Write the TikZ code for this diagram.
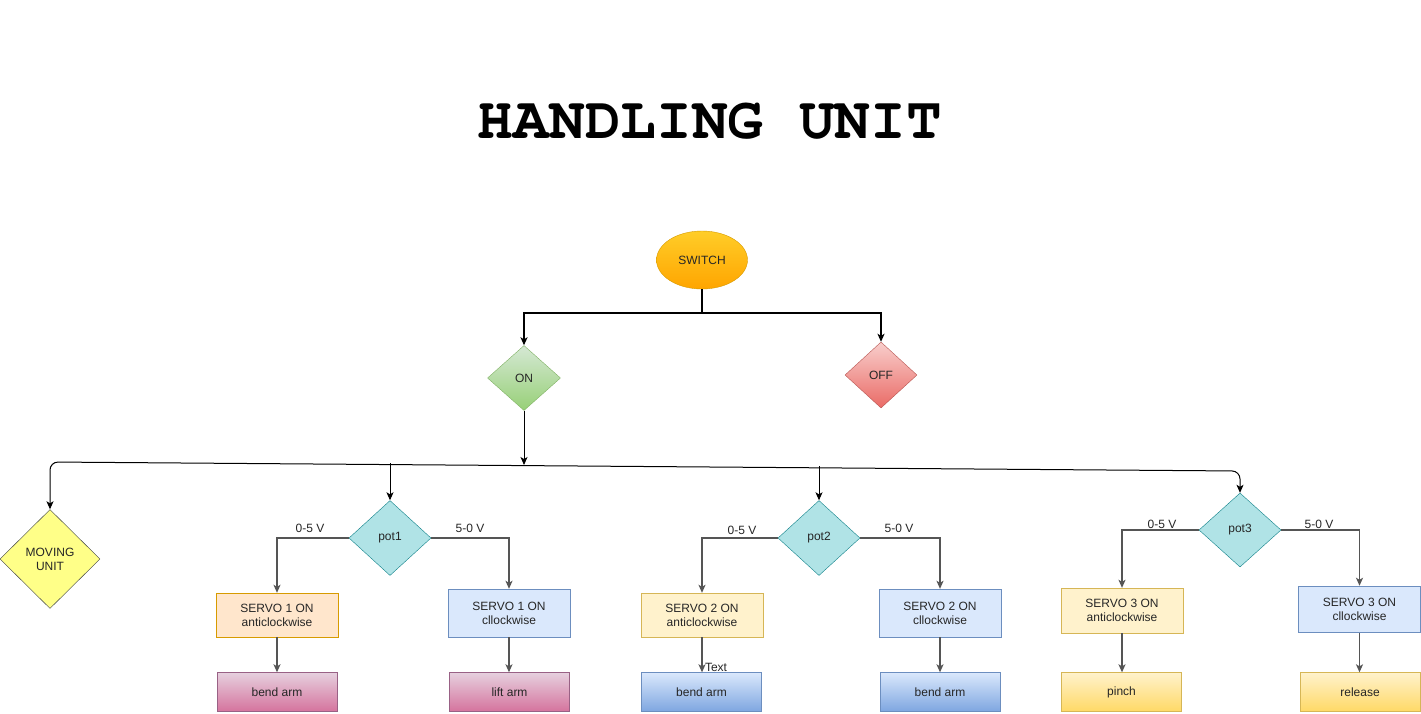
\documentclass[tikz,border=0pt]{standalone}
\usepackage{fontspec}
\setmainfont{Liberation Sans}
\newfontfamily\titlefont{TeX Gyre Cursor}
\usetikzlibrary{shapes.geometric,arrows.meta}
\definecolor{potfill}{HTML}{B0E3E6}
\definecolor{potline}{HTML}{0E8088}
\definecolor{ontop}{HTML}{D5E8D4}
\definecolor{onbot}{HTML}{97D077}
\definecolor{online}{HTML}{82B366}
\definecolor{offtop}{HTML}{F8CECC}
\definecolor{offbot}{HTML}{EA6B66}
\definecolor{offline}{HTML}{B85450}
\definecolor{swtop}{HTML}{FFCD28}
\definecolor{swbot}{HTML}{FFA500}
\definecolor{swline}{HTML}{D79B00}
\definecolor{mufill}{HTML}{FFFF88}
\definecolor{muline}{HTML}{36393D}
\definecolor{orfill}{HTML}{FFE6CC}
\definecolor{blfill}{HTML}{DAE8FC}
\definecolor{blline}{HTML}{6C8EBF}
\definecolor{blbot}{HTML}{7EA6E0}
\definecolor{yefill}{HTML}{FFF2CC}
\definecolor{yeline}{HTML}{D6B656}
\definecolor{yebot}{HTML}{FFD966}
\definecolor{pktop}{HTML}{E6D0DE}
\definecolor{pkbot}{HTML}{D5739D}
\definecolor{pkline}{HTML}{996185}
\definecolor{conn}{HTML}{555555}
\tikzset{
  lbl/.style={font=\fontsize{12}{14}\selectfont, text=black!85},
  dia/.style={diamond, draw, inner sep=0pt, font=\fontsize{12}{14}\selectfont, align=center, text=black!85},
  potd/.style={dia, fill=potfill, draw=potline, minimum width=82pt, minimum height=75pt},
  box/.style={rectangle, draw, inner sep=0pt, minimum width=122pt, minimum height=45pt, font=\fontsize{12}{14}\selectfont, align=center, text=black!85},
  endbox/.style={box, minimum width=120pt, minimum height=39pt},
  arr/.style={-{Stealth[length=8pt,width=7pt,inset=2pt]}},
  thin/.style={arr, line width=1pt},
  thick/.style={arr, line width=2pt},
  gconn/.style={thin, draw=conn, line width=1.3pt},
}
\begin{document}
\begin{tikzpicture}[x=1pt,y=-1pt]
\useasboundingbox (0,0) rectangle (1421,713);
\fill[white] (0,0) rectangle (1421,713);

\node[font={\titlefont\bfseries\fontsize{59.5}{60}\selectfont}] (title) at (710,121) {HANDLING UNIT};

% top nodes
\node[ellipse, draw=swline, top color=swtop, bottom color=swbot, minimum width=91pt, minimum height=58pt, inner sep=0pt, lbl] (sw) at (702,260) {SWITCH};
\node[dia, draw=online, top color=ontop, bottom color=onbot, minimum width=73pt, minimum height=65pt] (on) at (524,378) {ON};
\node[dia, draw=offline, top color=offtop, bottom color=offbot, minimum width=72pt, minimum height=66pt] (off) at (881,375) {OFF};

\coordinate (split) at (702,313);
\draw[thick] (sw.south) -- (split) -| (on.north);
\draw[thick] (split) -| (off.north);

% moving unit and pots
\node[dia, fill=mufill, draw=muline, minimum width=100pt, minimum height=99pt] (mu) at (50,559) {MOVING\\UNIT};
\node[potd] (p1) at (390,538) {pot1};
\node[potd] (p2) at (819,538) {pot2};
\node[potd, minimum height=74pt] (p3) at (1240,530) {pot3};

\coordinate (hl) at (50,462);
\coordinate (hr) at (1240,471);
\coordinate (onj) at (524,465);
\coordinate (p1j) at (390,463);
\coordinate (p2j) at (819,466);
\draw[thin] (on.south) -- (onj);
\draw[line width=1pt, {Stealth[length=8pt,width=7pt,inset=2pt]}-{Stealth[length=8pt,width=7pt,inset=2pt]}, rounded corners=8pt] (mu.north) -- (hl) -- (hr) -- (p3.north);
\draw[thin] (p1j) -- (p1.north);
\draw[thin] (p2j) -- (p2.north);

% servo boxes
\node[box, fill=orfill, draw=swline, minimum height=44pt] (s1a) at (277,615) {SERVO 1 ON\\anticlockwise};
\node[box, fill=blfill, draw=blline, minimum height=48pt] (s1c) at (509,613) {SERVO 1 ON\\cllockwise};
\node[box, fill=yefill, draw=yeline, minimum height=44pt] (s2a) at (702,615) {SERVO 2 ON\\anticlockwise};
\node[box, fill=blfill, draw=blline, minimum height=48pt] (s2c) at (940,613) {SERVO 2 ON\\cllockwise};
\node[box, fill=yefill, draw=yeline, minimum height=45pt] (s3a) at (1122,610.5) {SERVO 3 ON\\anticlockwise};
\node[box, fill=blfill, draw=blline, line width=1.5pt, minimum height=46pt] (s3c) at (1359.5,609.5) {SERVO 3 ON\\cllockwise};

% end boxes
\node[endbox, top color=pktop, bottom color=pkbot, draw=pkline] (b1) at (277,692) {bend arm};
\node[endbox, top color=pktop, bottom color=pkbot, draw=pkline] (b2) at (509.5,692) {lift arm};
\node[endbox, top color=blfill, bottom color=blbot, draw=blline] (b3) at (701.5,692) {bend arm};
\node[endbox, top color=blfill, bottom color=blbot, draw=blline] (b4) at (940,692) {bend arm};
\node[endbox, top color=yefill, bottom color=yebot, draw=yeline] (b5) at (1121.5,692) {pinch};
\node[endbox, top color=yefill, bottom color=yebot, draw=yeline] (b6) at (1360,692) {release};

% pot branches
\draw[gconn] (p1.west) -| (s1a.north);
\draw[gconn] (p1.east) -| (s1c.north);
\draw[gconn] (p2.west) -| (s2a.north);
\draw[gconn] (p2.east) -| (s2c.north);
\draw[gconn] (p3.west) -| (s3a.north);
\draw[gconn] (p3.east) -| (s3c.north);

\node[lbl] (l1) at (310,528) {0-5 V};
\node[lbl] (l2) at (470,528) {5-0 V};
\node[lbl] (l3) at (742,530) {0-5 V};
\node[lbl] (l4) at (899,528) {5-0 V};
\node[lbl] (l5) at (1162,524) {0-5 V};
\node[lbl] (l6) at (1319,524) {5-0 V};

% servo to end
\draw[gconn] (s1a.south) -- (s1a.south |- b1.north);
\draw[gconn] (s1c.south) -- (s1c.south |- b2.north);
\draw[gconn] (s2a.south) -- (s2a.south |- b3.north);
\draw[gconn] (s2c.south) -- (s2c.south |- b4.north);
\draw[gconn] (s3a.south) -- (s3a.south |- b5.north);
\draw[gconn] (s3c.south) -- (s3c.south |- b6.north);

\node[lbl] (txt) at (716,667) {Text};
\end{tikzpicture}
\end{document}
